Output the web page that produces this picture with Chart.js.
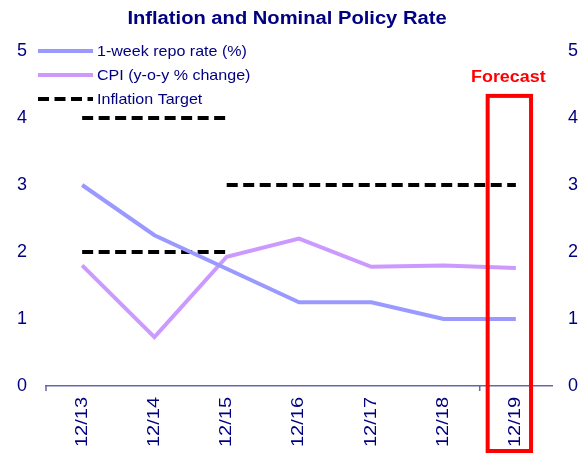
<!DOCTYPE html>
<html>
<head>
<meta charset="utf-8">
<script src="https://cdn.jsdelivr.net/npm/chart.js@4/dist/chart.umd.min.js"></script>
<style>
  html, body { margin: 0; padding: 0; background: #fff; }
  #wrap { width: 586px; height: 454px; position: relative; }
</style>
</head>
<body>
<div id="wrap"><canvas id="c" width="586" height="454"></canvas></div>
<script>
const categories = ['12/13', '12/14', '12/15', '12/16', '12/17', '12/18', '12/19'];
const repoRate = [3.0, 2.25, 1.75, 1.25, 1.25, 1.0, 1.0];
const cpi = [1.8, 0.73, 1.93, 2.2, 1.78, 1.8, 1.76];
const targetUpper = [4, 4, 4, null, null, null, null];
const targetLower = [2, 2, 2, null, null, null, null];
const targetPoint = [null, null, 3, 3, 3, 3, 3];
const yTicks = [0, 1, 2, 3, 4, 5];
const forecastIndex = 6;
const titleText = 'Inflation and Nominal Policy Rate';
const legendLabels = ['1-week repo rate (%)', 'CPI (y-o-y % change)', 'Inflation Target'];

const NAVY = '#000080';
const REPO_COLOR = '#9999ff';
const CPI_COLOR = '#cc99ff';
const FONT = 'Liberation Sans, Arial, sans-serif';

function stretchedText(ctx, text, x, y, sx, align) {
  ctx.save();
  ctx.translate(x, y);
  ctx.scale(sx, 1);
  ctx.textAlign = align;
  ctx.fillText(text, 0, 0);
  ctx.restore();
}

const overlay = {
  id: 'overlay',
  afterDatasetsDraw(chart) {
    const ctx = chart.ctx;
    const x = chart.scales.x, y = chart.scales.y;
    const step = x.getPixelForValue(1) - x.getPixelForValue(0);
    ctx.save();
    // tick marks on x axis
    ctx.strokeStyle = '#6666aa';
    ctx.lineWidth = 1.5;
    [-0.5, 5.5].forEach(v => {
      const px = x.getPixelForValue(0) + v * step;
      ctx.beginPath();
      ctx.moveTo(px, y.bottom);
      ctx.lineTo(px, y.bottom + 5);
      ctx.stroke();
    });
    // x tick labels (rotated, from the category scale)
    ctx.fillStyle = NAVY;
    ctx.font = '16px ' + FONT;
    ctx.textBaseline = 'middle';
    categories.forEach((lab, i) => {
      const px = x.getPixelForValue(i);
      ctx.save();
      ctx.translate(px, y.bottom + 11);
      ctx.rotate(-Math.PI / 2);
      ctx.scale(1.25, 1);
      ctx.textAlign = 'right';
      ctx.fillText(lab, 0, 0);
      ctx.restore();
    });
    // forecast box
    const cx = x.getPixelForValue(forecastIndex);
    const left = cx - 0.39 * step, right = cx + 0.21 * step;
    const top = y.getPixelForValue(4.33);
    const bottom = chart.height - 3;
    ctx.strokeStyle = '#ff0000';
    ctx.lineWidth = 4;
    ctx.strokeRect(left, top, right - left, bottom - top);
    ctx.fillStyle = '#ff0000';
    ctx.font = 'bold 16px ' + FONT;
    ctx.textBaseline = 'middle';
    stretchedText(ctx, 'Forecast', (left + right) / 2 - 1, top - 18, 1.12, 'center');
    // title
    ctx.fillStyle = NAVY;
    ctx.font = 'bold 18px ' + FONT;
    stretchedText(ctx, titleText, 287, 19, 1.12, 'center');
    // legend
    ctx.font = '15px ' + FONT;
    const rows = [51, 75, 99];
    const styles = [
      { c: REPO_COLOR, dash: [] },
      { c: CPI_COLOR, dash: [] },
      { c: '#000000', dash: [11, 5.5] }
    ];
    rows.forEach((ry, i) => {
      ctx.strokeStyle = styles[i].c;
      ctx.lineWidth = 4;
      ctx.setLineDash(styles[i].dash);
      ctx.beginPath();
      ctx.moveTo(38, ry);
      ctx.lineTo(93, ry);
      ctx.stroke();
      ctx.setLineDash([]);
      ctx.fillStyle = NAVY;
      stretchedText(ctx, legendLabels[i], 97, ry + 1, 1.07, 'left');
    });
    ctx.restore();
  }
};

const dashStyle = {
  borderColor: '#000000',
  borderWidth: 4,
  borderDash: [11, 5.5],
  pointRadius: 0,
  fill: false,
  tension: 0,
  spanGaps: false
};

new Chart(document.getElementById('c'), {
  type: 'line',
  data: {
    labels: categories,
    datasets: [
      { label: legendLabels[0], data: repoRate, borderColor: REPO_COLOR, borderWidth: 4, pointRadius: 0, tension: 0, fill: false },
      { label: legendLabels[1], data: cpi, borderColor: CPI_COLOR, borderWidth: 4, pointRadius: 0, tension: 0, fill: false },
      Object.assign({ label: legendLabels[2], data: targetUpper }, dashStyle),
      Object.assign({ label: legendLabels[2] + ' low', data: targetLower }, dashStyle),
      Object.assign({ label: legendLabels[2] + ' point', data: targetPoint }, dashStyle)
    ]
  },
  options: {
    responsive: false,
    animation: false,
    layout: { padding: { top: 51, bottom: 0, left: 0, right: 0 } },
    plugins: { legend: { display: false }, title: { display: false }, tooltip: { enabled: false } },
    scales: {
      x: {
        type: 'category',
        offset: true,
        grid: { display: false, drawTicks: false },
        border: { display: true, color: '#6666aa', width: 1.5 },
        ticks: { display: false },
        afterFit(s) { s.height = 68; }
      },
      y: {
        position: 'left',
        min: 0, max: 5,
        afterBuildTicks(s) { s.ticks = yTicks.map(v => ({ value: v })); },
        grid: { display: false, drawTicks: false },
        border: { display: false },
        ticks: { color: NAVY, font: { family: FONT, size: 18 }, padding: 19 },
        afterFit(s) { s.width = 46; }
      },
      y2: {
        position: 'right',
        min: 0, max: 5,
        afterBuildTicks(s) { s.ticks = yTicks.map(v => ({ value: v })); },
        grid: { display: false, drawTicks: false },
        border: { display: false },
        ticks: { color: NAVY, font: { family: FONT, size: 18 }, padding: 16 },
        afterFit(s) { s.width = 34; }
      }
    }
  },
  plugins: [overlay]
});
</script>
</body>
</html>
